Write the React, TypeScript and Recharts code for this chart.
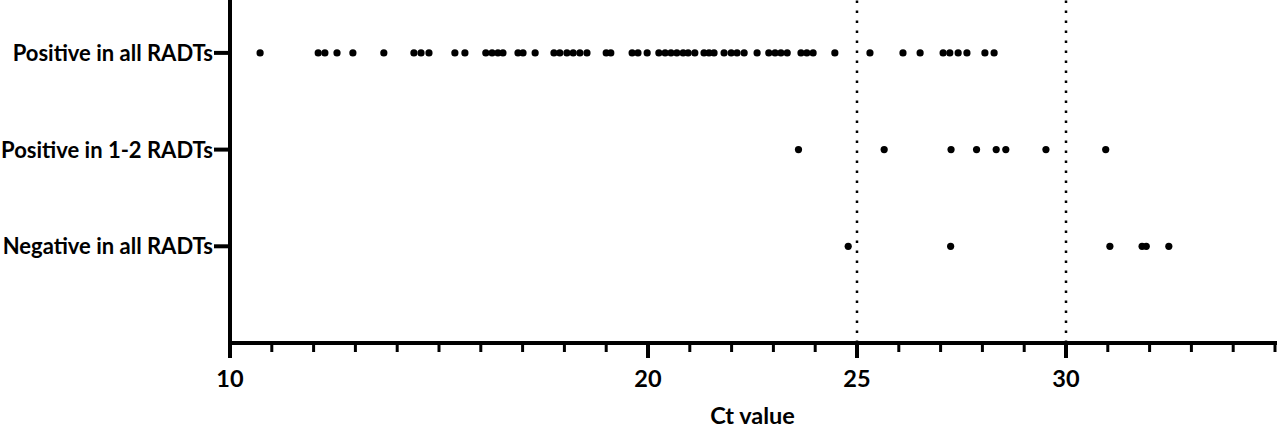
import { ReferenceLine, Scatter, ScatterChart, XAxis, YAxis } from "recharts"

document.body.style.margin = "0"

const groups = ["Negative in all RADTs", "Positive in 1-2 RADTs", "Positive in all RADTs"]

const allPositive = [
  10.72, 12.11, 12.27, 12.56, 12.94, 13.68, 14.4, 14.57, 14.76, 15.38, 15.62, 16.12, 16.27, 16.41, 16.53,
  16.89, 17.01, 17.3, 17.75, 17.89, 18.06, 18.21, 18.37, 18.54, 19.0, 19.11, 19.62, 19.76, 19.98, 20.26,
  20.41, 20.55, 20.69, 20.84, 20.96, 21.12, 21.34, 21.46, 21.58, 21.82, 21.99, 22.13, 22.3, 22.61, 22.89,
  23.04, 23.18, 23.33, 23.66, 23.8, 23.95, 24.47, 25.31, 26.1, 26.51, 27.06, 27.22, 27.42, 27.63, 28.06,
  28.28,
]
const somePositive = [23.6, 25.65, 27.25, 27.86, 28.33, 28.56, 29.52, 30.95]
const allNegative = [24.79, 27.24, 31.05, 31.82, 31.92, 32.46]

const xTicks = [
  10, 11, 12, 13, 14, 15, 16, 17, 18, 19, 20, 21, 22, 23, 24, 25, 26, 27, 28, 29, 30, 31, 32, 33, 34, 35,
]
const labelledTicks = [10, 20, 25, 30]
const cutoffs = [25, 30]
const rowTicks = [1, 2, 3]

const font = "Lato, 'Open Sans', sans-serif"

function XTick(props: any) {
  const { x, y, payload } = props
  const major = labelledTicks.includes(payload.value)
  return (
    <g>
      <line x1={x} x2={x} y1={y} y2={y + (major ? 15 : 9)} stroke="#000" strokeWidth={major ? 4 : 3} />
      {major && (
        <text x={x} y={y + 44} textAnchor="middle" fontFamily={font} fontWeight={700} fontSize={23.5} fill="#000">
          {payload.value}
        </text>
      )}
    </g>
  )
}

function YTick(props: any) {
  const { x, y, payload } = props
  return (
    <g>
      <line x1={x - 16} x2={x} y1={y} y2={y} stroke="#000" strokeWidth={4} />
      <text x={x - 17} y={y + 8} textAnchor="end" fontFamily={font} fontWeight={700} fontSize={22} fill="#000">
        {groups[payload.value - 1]}
      </text>
    </g>
  )
}

const Dot = (props: any) => <circle cx={props.cx} cy={props.cy} r={3.6} fill="#000" />

export default function App() {
  return (
    <ScatterChart width={1280} height={432} margin={{ top: 0, right: 5, bottom: 0, left: 0 }}>
      <XAxis
        type="number"
        dataKey="ct"
        domain={[10, 35]}
        ticks={xTicks}
        interval={0}
        height={89}
        tickSize={0}
        tickMargin={0}
        tickLine={false}
        tick={<XTick />}
        axisLine={{ stroke: "#000", strokeWidth: 4, strokeLinecap: "square" }}
        label={{
          value: "Ct value",
          position: "insideBottom",
          offset: 8,
          style: { fontFamily: font, fontWeight: 700, fontSize: 23.5, fill: "#000" },
        }}
      />
      <YAxis
        type="number"
        dataKey="row"
        domain={[0, 3.547]}
        ticks={rowTicks}
        interval={0}
        width={230}
        tickSize={0}
        tickMargin={0}
        tickLine={false}
        tick={<YTick />}
        axisLine={{ stroke: "#000", strokeWidth: 4 }}
      />
      {cutoffs.map((c) => (
        <ReferenceLine key={c} x={c} stroke="#000" strokeWidth={2.5} strokeDasharray="2.5 7.5" />
      ))}
      <Scatter data={allPositive.map((ct) => ({ ct, row: 3 }))} shape={Dot} isAnimationActive={false} />
      <Scatter data={somePositive.map((ct) => ({ ct, row: 2 }))} shape={Dot} isAnimationActive={false} />
      <Scatter data={allNegative.map((ct) => ({ ct, row: 1 }))} shape={Dot} isAnimationActive={false} />
    </ScatterChart>
  )
}
